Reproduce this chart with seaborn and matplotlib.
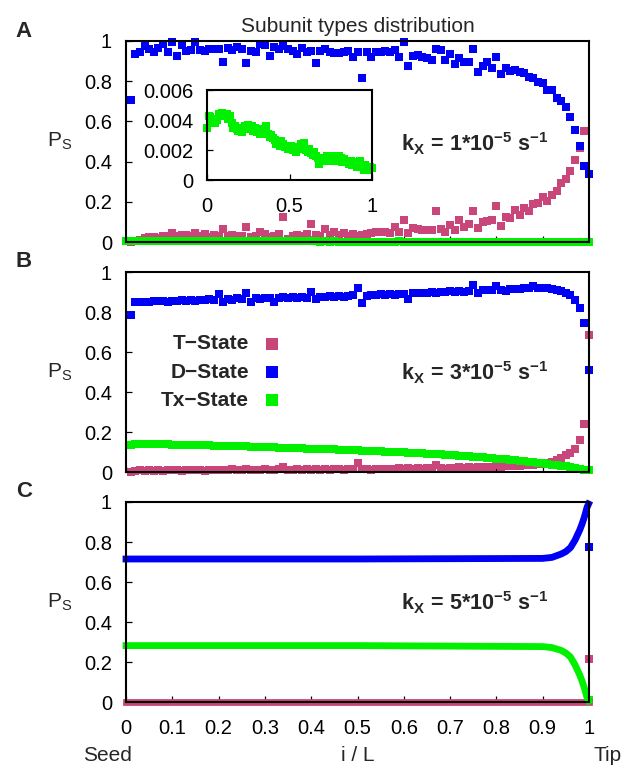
import numpy as np
import matplotlib
matplotlib.use("Agg")
import matplotlib.pyplot as plt
import seaborn as sns

# ---------------- data ----------------
X_TICKS = [0.0, 0.1, 0.2, 0.3, 0.4, 0.5, 0.6, 0.7, 0.8, 0.9, 1.0]
X_TICK_LABELS = ["0", "0.1", "0.2", "0.3", "0.4", "0.5", "0.6", "0.7", "0.8", "0.9", "1"]
Y_TICKS = [0.0, 0.2, 0.4, 0.6, 0.8, 1.0]
Y_TICK_LABELS = ["0", "0.2", "0.4", "0.6", "0.8", "1"]
INSET_X_TICKS = [0.0, 0.5, 1.0]
INSET_X_TICK_LABELS = ["0", "0.5", "1"]
INSET_Y_TICKS = [0.0, 0.002, 0.004, 0.006]
INSET_Y_TICK_LABELS = ["0", "0.002", "0.004", "0.006"]
LEGEND_LABELS = ["T\u2212State", "D\u2212State", "Tx\u2212State"]
K_LABELS = [r"$\mathbf{k_X\,=\,1{*}10^{-5}\ s^{-1}}$",
            r"$\mathbf{k_X\,=\,3{*}10^{-5}\ s^{-1}}$",
            r"$\mathbf{k_X\,=\,5{*}10^{-5}\ s^{-1}}$"]

# site positions i/L (i = 1..100) for panels A and B, i = 0..100 for the Tx series of A
X_AB = np.round(np.arange(1, 101) * 0.01, 2)
X_TX_A = np.round(np.arange(0, 101) * 0.01, 2)

# Panel A (k_X = 1e-5)
D_A = [0.706, 0.934, 0.947, 0.975, 0.960, 0.943, 0.963, 0.983, 0.947, 0.997,
       0.925, 0.980, 0.950, 0.955, 0.997, 0.955, 0.950, 0.960, 0.960, 0.962,
       0.897, 0.967, 0.953, 0.968, 0.962, 0.890, 0.950, 0.947, 0.983, 0.980,
       0.925, 0.968, 0.958, 0.975, 0.960, 0.950, 0.934, 0.967, 0.947, 0.952,
       0.889, 0.950, 0.960, 0.947, 0.938, 0.938, 0.947, 0.950, 0.922, 0.945,
       0.814, 0.947, 0.922, 0.943, 0.947, 0.950, 0.943, 0.955, 0.922, 0.997,
       0.876, 0.927, 0.930, 0.922, 0.917, 0.905, 0.958, 0.955, 0.905, 0.934,
       0.884, 0.917, 0.894, 0.894, 0.960, 0.844, 0.877, 0.894, 0.867, 0.922,
       0.834, 0.864, 0.851, 0.854, 0.844, 0.839, 0.823, 0.818, 0.794, 0.789,
       0.756, 0.756, 0.715, 0.701, 0.670, 0.620, 0.556, 0.479, 0.380, 0.340]
T_A = [0.002, 0.005, 0.012, 0.020, 0.026, 0.026, 0.022, 0.030, 0.028, 0.045,
       0.030, 0.035, 0.035, 0.028, 0.043, 0.030, 0.038, 0.026, 0.033, 0.030,
       0.065, 0.031, 0.035, 0.028, 0.030, 0.073, 0.026, 0.031, 0.051, 0.038,
       0.025, 0.031, 0.040, 0.126, 0.015, 0.030, 0.035, 0.028, 0.038, 0.089,
       0.035, 0.030, 0.065, 0.035, 0.051, 0.035, 0.043, 0.030, 0.038, 0.028,
       0.035, 0.038, 0.043, 0.051, 0.048, 0.051, 0.045, 0.073, 0.051, 0.110,
       0.043, 0.068, 0.065, 0.060, 0.060, 0.060, 0.156, 0.065, 0.051, 0.085,
       0.060, 0.109, 0.076, 0.090, 0.154, 0.068, 0.101, 0.106, 0.109, 0.179,
       0.080, 0.126, 0.121, 0.159, 0.134, 0.168, 0.154, 0.187, 0.192, 0.222,
       0.204, 0.234, 0.256, 0.292, 0.313, 0.355, 0.408, 0.466, 0.552, np.nan]
TX_A = [0.0035, 0.0043, 0.0042, 0.0040, 0.0041, 0.0038, 0.0040, 0.0044, 0.0043, 0.0045,
        0.0044, 0.0043, 0.0044, 0.0041, 0.0043, 0.0038, 0.0035, 0.0036, 0.0034, 0.0033,
        0.0035, 0.0032, 0.0034, 0.0036, 0.0035, 0.0037, 0.0034, 0.0036, 0.0033, 0.0035,
        0.0032, 0.0034, 0.0031, 0.0033, 0.0032, 0.0034, 0.0036, 0.0031, 0.0029, 0.0030,
        0.0028, 0.0027, 0.0024, 0.0025, 0.0023, 0.0026, 0.0024, 0.0022, 0.0023, 0.0021,
        0.0022, 0.0023, 0.0020, 0.0021, 0.0019, 0.0022, 0.0022, 0.0024, 0.0021, 0.0025,
        0.0020, 0.0019, 0.0021, 0.0018, 0.0017, 0.0019, 0.0016, 0.0015, 0.0011, 0.0014,
        0.0013, 0.0015, 0.0014, 0.0016, 0.0013, 0.0015, 0.0014, 0.0016, 0.0013, 0.0015,
        0.0016, 0.0015, 0.0012, 0.0014, 0.0013, 0.0012, 0.0011, 0.0013, 0.0010, 0.0012,
        0.0011, 0.0009, 0.0010, 0.0013, 0.0009, 0.0007, 0.0010, 0.0008, 0.0007, 0.0009,
        0.0008]

# Panel B (k_X = 3e-5)
D_B = [0.785, 0.848, 0.850, 0.852, 0.851, 0.855, 0.853, 0.856, 0.852, 0.857,
       0.855, 0.858, 0.854, 0.860, 0.857, 0.862, 0.858, 0.863, 0.860, 0.888,
       0.848, 0.866, 0.862, 0.870, 0.866, 0.893, 0.848, 0.868, 0.866, 0.871,
       0.868, 0.851, 0.870, 0.873, 0.869, 0.874, 0.871, 0.876, 0.872, 0.898,
       0.866, 0.876, 0.874, 0.878, 0.875, 0.880, 0.876, 0.879, 0.885, 0.922,
       0.845, 0.882, 0.886, 0.884, 0.888, 0.886, 0.890, 0.887, 0.891, 0.889,
       0.866, 0.895, 0.893, 0.897, 0.895, 0.899, 0.896, 0.901, 0.898, 0.903,
       0.900, 0.905, 0.902, 0.906, 0.935, 0.895, 0.908, 0.912, 0.910, 0.930,
       0.912, 0.906, 0.915, 0.917, 0.914, 0.920, 0.918, 0.928, 0.920, 0.922,
       0.918, 0.916, 0.912, 0.905, 0.897, 0.885, 0.860, 0.822, 0.745, 0.510]
T_B = [0.000, 0.005, 0.008, 0.006, 0.010, 0.007, 0.009, 0.006, 0.010, 0.008,
       0.011, 0.007, 0.010, 0.008, 0.012, 0.009, 0.007, 0.011, 0.009, 0.012,
       0.008, 0.010, 0.013, 0.009, 0.011, 0.014, 0.010, 0.012, 0.009, 0.013,
       0.011, 0.010, 0.014, 0.027, 0.010, 0.012, 0.015, 0.011, 0.013, 0.010,
       0.014, 0.012, 0.015, 0.011, 0.013, 0.016, 0.012, 0.014, 0.017, 0.043,
       0.013, 0.015, 0.012, 0.016, 0.014, 0.017, 0.013, 0.016, 0.018, 0.015,
       0.019, 0.016, 0.020, 0.017, 0.021, 0.018, 0.035, 0.020, 0.017, 0.021,
       0.019, 0.023, 0.020, 0.024, 0.022, 0.025, 0.023, 0.027, 0.025, 0.035,
       0.026, 0.030, 0.028, 0.032, 0.030, 0.034, 0.033, 0.037, 0.038, 0.042,
       0.045, 0.048, 0.060, 0.072, 0.085, 0.093, 0.115, 0.160, 0.238, 0.685]
TX_B = [0.136, 0.141, 0.141, 0.140, 0.140, 0.139, 0.139, 0.138, 0.138, 0.137,
        0.137, 0.136, 0.136, 0.135, 0.135, 0.134, 0.134, 0.133, 0.132, 0.132,
        0.131, 0.130, 0.130, 0.129, 0.128, 0.128, 0.127, 0.126, 0.125, 0.124,
        0.124, 0.123, 0.122, 0.121, 0.121, 0.120, 0.119, 0.118, 0.117, 0.117,
        0.116, 0.115, 0.114, 0.113, 0.113, 0.112, 0.111, 0.110, 0.109, 0.108,
        0.107, 0.106, 0.105, 0.104, 0.103, 0.102, 0.101, 0.100, 0.099, 0.098,
        0.097, 0.096, 0.094, 0.093, 0.092, 0.091, 0.089, 0.088, 0.086, 0.085,
        0.083, 0.082, 0.080, 0.078, 0.077, 0.075, 0.073, 0.071, 0.069, 0.067,
        0.065, 0.063, 0.061, 0.059, 0.056, 0.054, 0.051, 0.049, 0.046, 0.043,
        0.040, 0.037, 0.034, 0.031, 0.028, 0.024, 0.020, 0.016, 0.012, 0.008]

# Panel C (k_X = 5e-5): dense profile, read at these positions
X_C = [0.0, 0.5, 0.9, 0.92, 0.94, 0.95, 0.96, 0.97, 0.975, 0.98, 0.985, 0.99, 0.993, 0.996, 0.999]
D_C = [0.715, 0.715, 0.718, 0.723, 0.740, 0.752, 0.772, 0.810, 0.835, 0.860, 0.890, 0.925, 0.950, 0.975, 0.990]
TX_C = [0.282, 0.282, 0.277, 0.272, 0.258, 0.245, 0.225, 0.185, 0.160, 0.135, 0.105, 0.070, 0.045, 0.020, 0.005]
T_C = [0.0, 0.0, 0.0, 0.0, 0.0, 0.0, 0.0, 0.0, 0.0, 0.0, 0.0, 0.0, 0.0, 0.0, 0.0]
X_TIP = [1.0]
D_TIP = [0.777]
T_TIP = [0.215]
TX_TIP = [0.012]

# ---------------- style ----------------
sns.set_theme(style="white")
plt.rcParams["font.family"] = ["Liberation Sans", "DejaVu Sans"]
plt.rcParams["mathtext.fontset"] = "custom"
plt.rcParams["mathtext.rm"] = "Liberation Sans"
plt.rcParams["mathtext.it"] = "Liberation Sans:italic"
plt.rcParams["mathtext.bf"] = "Liberation Sans:bold"
plt.rcParams["axes.unicode_minus"] = True

COL_T = "#c8467a"
COL_D = "#0000f5"
COL_TX = "#00f000"
MS = 27          # marker area (pt^2) for scatter squares
LW_C = 4.9       # line width for dense panel C

FS_TICK = 14.5
FS_TXT = 15

fig = plt.figure(figsize=(6.26, 7.65), dpi=100)
W = 463 / 626
L = 126 / 626
axA = fig.add_axes([L, 1 - 242 / 765, W, 201 / 765])
axB = fig.add_axes([L, 1 - 472 / 765, W, 200 / 765])
axC = fig.add_axes([L, 1 - 702 / 765, W, 200 / 765])
axI = fig.add_axes([207 / 626, 1 - 180 / 765, 165 / 626, 90 / 765])


def style_axis(ax, xt, xtl, yt, ytl, xlim, ylim):
    ax.set_xlim(*xlim)
    ax.set_ylim(*ylim)
    ax.set_xticks(xt)
    ax.set_xticklabels(xtl)
    ax.set_yticks(yt)
    ax.set_yticklabels(ytl)
    ax.tick_params(direction="in", length=4.3, width=0.9, labelsize=FS_TICK,
                   colors="black", bottom=True, left=True, top=False, right=False)
    ax.tick_params(axis="y", pad=10)
    ax.tick_params(axis="x", pad=12)
    ax.set_facecolor("white")
    ax.grid(False)
    for sp in ax.spines.values():
        sp.set_visible(True)
        sp.set_color("black")
        sp.set_linewidth(1.5)
    ax.set_xlabel("")
    ax.set_ylabel("")


for ax in (axA, axB, axC):
    style_axis(ax, X_TICKS, X_TICK_LABELS, Y_TICKS, Y_TICK_LABELS, (0, 1), (0, 1))
axA.set_xticklabels([])
axB.set_xticklabels([])

style_axis(axI, INSET_X_TICKS, INSET_X_TICK_LABELS, INSET_Y_TICKS, INSET_Y_TICK_LABELS,
           (0, 1), (0, 0.006))

# ---------------- panel A ----------------
sc = dict(marker="s", s=MS, linewidth=0, clip_on=False)
sns.scatterplot(x=X_AB, y=T_A, color=COL_T, ax=axA, **sc)
sns.scatterplot(x=X_AB, y=D_A, color=COL_D, ax=axA, **sc)
sns.scatterplot(x=X_TX_A, y=TX_A, color=COL_TX, ax=axA, **sc)
sns.scatterplot(x=X_TX_A, y=TX_A, color=COL_TX, ax=axI, **sc)
axI.set_xlabel("")
axI.set_ylabel("")

# ---------------- panel B ----------------
sns.scatterplot(x=X_AB, y=T_B, color=COL_T, ax=axB, label=LEGEND_LABELS[0], **sc)
sns.scatterplot(x=X_AB, y=D_B, color=COL_D, ax=axB, label=LEGEND_LABELS[1], **sc)
sns.scatterplot(x=X_AB, y=TX_B, color=COL_TX, ax=axB, label=LEGEND_LABELS[2], **sc)
handles, labels = axB.get_legend_handles_labels()
axB.legend(handles, labels, loc="center right", bbox_to_anchor=(0.333, 0.5),
           frameon=False, markerfirst=False, prop={"weight": "bold", "size": FS_TXT},
           handlelength=0.8, handletextpad=0.7, labelspacing=0.45, borderpad=0,
           borderaxespad=0, markerscale=1.6, scatterpoints=1)

# ---------------- panel C ----------------
ln = dict(linewidth=LW_C, solid_capstyle="projecting", clip_on=False, legend=False)
sns.lineplot(x=X_C, y=T_C, color=COL_T, ax=axC, **ln)
sns.lineplot(x=X_C, y=D_C, color=COL_D, ax=axC, **ln)
sns.lineplot(x=X_C, y=TX_C, color=COL_TX, ax=axC, **ln)
sns.scatterplot(x=X_TIP, y=T_TIP, color=COL_T, ax=axC, **sc)
sns.scatterplot(x=X_TIP, y=D_TIP, color=COL_D, ax=axC, **sc)
sns.scatterplot(x=X_TIP, y=TX_TIP, color=COL_TX, ax=axC, **sc)

for ax in (axA, axB, axC):
    if ax is not axB and ax.get_legend() is not None:
        ax.get_legend().remove()
    ax.set_xlabel("")
    ax.set_ylabel(r"$\mathregular{P_S}$", rotation=0, fontsize=FS_TXT, ha="center", va="center")
    ax.yaxis.set_label_coords(-0.1425, 0.5)

# k_X annotations
for ax, lab, yy in zip((axA, axB, axC), K_LABELS, (0.49, 0.4975, 0.495)):
    ax.text(0.593, yy, lab, transform=ax.transAxes, ha="left", va="center", fontsize=15.5)

# x label and end annotations
axC.set_xlabel("i / L", fontsize=FS_TXT, va="baseline")
axC.xaxis.set_label_coords(0.5, (702 - 761) / 200)
fig.text(83 / 626, 1 - 761 / 765, "Seed", fontsize=FS_TXT, ha="left", va="baseline")
fig.text(593 / 626, 1 - 761 / 765, "Tip", fontsize=FS_TXT, ha="left", va="baseline")

# title and panel letters
fig.text(357.5 / 626, 1 - 32 / 765, "Subunit types distribution", fontsize=FS_TXT,
         ha="center", va="baseline")
for letter, base in (("A", 37), ("B", 267), ("C", 497)):
    fig.text(24 / 626, 1 - base / 765, letter, fontsize=16, fontweight="bold",
             ha="center", va="baseline")

fig.savefig("out.png", dpi=100, facecolor="white")
